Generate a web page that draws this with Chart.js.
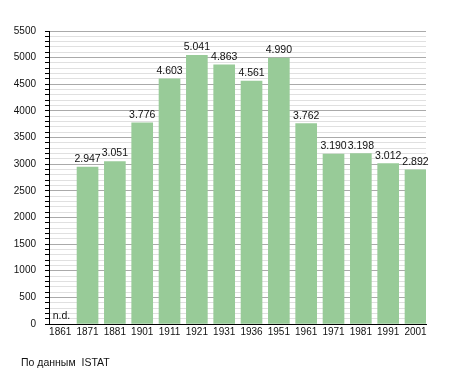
<!DOCTYPE html>
<html>
<head>
<meta charset="utf-8">
<script src="https://cdn.jsdelivr.net/npm/chart.js@4/dist/chart.umd.min.js"></script>
<style>
  body { margin: 0; background: #fff; }
  #wrap { position: relative; width: 455px; height: 373px; }
  #note { position: absolute; left: 21px; top: 356px; font: 10.5px "Liberation Sans", Arial, sans-serif; color: #111; white-space: pre; }
</style>
</head>
<body>
<div id="wrap">
  <canvas id="myChart" width="455" height="373"></canvas>
  <div id="note">По данным  ISTAT</div>
</div>
<script>
const years = ['1861', '1871', '1881', '1901', '1911', '1921', '1931', '1936', '1951', '1961', '1971', '1981', '1991', '2001'];
const population = [null, 2947, 3051, 3776, 4603, 5041, 4863, 4561, 4990, 3762, 3190, 3198, 3012, 2892];
const yMax = 5500;
const majorStep = 500;
const minorStep = 100;

const fontFamily = '"Liberation Sans", Arial, sans-serif';

// value labels above bars, "n.d." where there is no data
const barLabels = {
    id: 'barLabels',
    afterDatasetsDraw(chart) {
        const c = chart.ctx;
        const meta = chart.getDatasetMeta(0);
        c.save();
        c.font = '10.5px ' + fontFamily;
        c.fillStyle = '#111';
        c.textBaseline = 'alphabetic';
        meta.data.forEach((bar, i) => {
            const v = population[i];
            if (v === null) {
                c.textAlign = 'left';
                c.fillText('n.d.', bar.x - 7.5, chart.chartArea.bottom - 5.5);
                return;
            }
            c.textAlign = 'center';
            c.fillText(v.toLocaleString('de-DE'), bar.x, bar.y - 5);
        });
        c.restore();
    }
};

const ctx = document.getElementById('myChart').getContext('2d');

const myChart = new Chart(ctx, {
    type: 'bar',
    data: {
        labels: years,
        datasets: [{
            data: population,
            backgroundColor: '#98cb98',
            borderWidth: 0,
            barThickness: 21
        }]
    },
    options: {
        responsive: false,
        animation: false,
        layout: { padding: { top: 31, right: 29, left: 0, bottom: 0 } },
        scales: {
            x: {
                offset: false,
                grid: { display: false, drawTicks: false },
                border: { color: '#000', width: 1 },
                ticks: {
                    color: '#111',
                    font: { family: fontFamily, size: 10 },
                    padding: 2,
                    maxRotation: 0,
                    autoSkip: false
                },
                afterFit(scale) { scale.height = 49; },
                // bars sit flush with the right end of the axis, small gap on the left
                afterBuildTicks(scale) {
                    scale._startValue = -0.41;
                    scale._valueRange = years.length - 1 + 0.41 + 0.384;
                }
            },
            y: {
                min: 0,
                max: yMax,
                border: { color: '#000', width: 1 },
                grid: {
                    color: (c) => (c.tick && c.tick.value % majorStep === 0) ? '#aaaaaa' : '#e0e0e0',
                    tickColor: '#000',
                    tickLength: 4,
                    lineWidth: 1
                },
                ticks: {
                    stepSize: minorStep,
                    autoSkip: false,
                    color: '#111',
                    font: { family: fontFamily, size: 10 },
                    padding: 9,
                    callback: function(value) {
                        return value % majorStep === 0 ? value : '';
                    }
                },
                afterFit(scale) { scale.width = 49; }
            }
        },
        plugins: {
            legend: { display: false },
            tooltip: { enabled: false }
        }
    },
    plugins: [barLabels]
});
</script>
</body>
</html>
